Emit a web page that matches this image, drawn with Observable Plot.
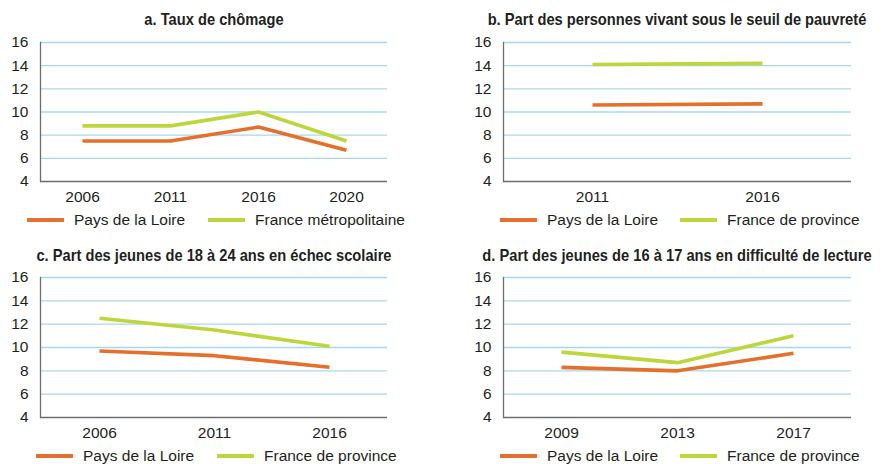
<!DOCTYPE html>
<html>
<head>
<meta charset="utf-8">
<script src="https://cdn.jsdelivr.net/npm/d3@7"></script>
<script src="https://cdn.jsdelivr.net/npm/@observablehq/plot@0.6"></script>
<style>
  html, body { margin: 0; padding: 0; background: #fff; }
  #root { position: relative; width: 887px; height: 464px; overflow: hidden; background: #fff; }
  .title { position: absolute; font-family: "Liberation Sans", Arial, sans-serif; font-weight: bold; font-size: 16.5px; color: #231f20; white-space: nowrap; transform: translateX(-50%) scaleX(0.89); transform-origin: 50% 50%; line-height: 20px; }
  .plot { position: absolute; }
  .leg { position: absolute; display: flex; align-items: center; font-family: "Liberation Sans", Arial, sans-serif; font-size: 15.5px; color: #231f20; white-space: nowrap; line-height: 18px; }
  .sw { display: inline-block; width: 37px; height: 4px; margin-right: 10px; }
</style>
</head>
<body>
<div id="root"></div>
<script>
// ---- data ----
const yTicks = [4, 6, 8, 10, 12, 14, 16];
const gridTicks = [6, 8, 10, 12, 14, 16];
const seriesLoire = "Pays de la Loire";
const seriesMetro = "France métropolitaine";
const seriesProvince = "France de province";

const titleA = "a. Taux de chômage";
const yearsA = ["2006", "2011", "2016", "2020"];
const loireA = [7.5, 7.5, 8.7, 6.7];
const metroA = [8.8, 8.8, 10.0, 7.5];

const titleB = "b. Part des personnes vivant sous le seuil de pauvreté";
const yearsB = ["2011", "2016"];
const loireB = [10.6, 10.7];
const provinceB = [14.1, 14.2];

const titleC = "c. Part des jeunes de 18 à 24 ans en échec scolaire";
const yearsC = ["2006", "2011", "2016"];
const loireC = [9.7, 9.3, 8.3];
const provinceC = [12.5, 11.5, 10.1];

const titleD = "d. Part des jeunes de 16 à 17 ans en difficulté de lecture";
const yearsD = ["2009", "2013", "2017"];
const loireD = [8.3, 8.0, 9.5];
const provinceD = [9.6, 8.7, 11.0];

const colorLoire = "#e4702c";
const colorFrance = "#bdd63a";
const gridColor = "#a9d7f1";
const axisColor = "#6d6e70";

// ---- layout ----
const root = document.getElementById("root");

function panel(opts) {
  const {title, years, s1, v1, s2, v2, fl, fr, ft, fb, padding, titleY, legY, leg} = opts;
  const mL = 40, mT = 12, mR = 4, mB = 30;
  const data = [
    ...years.map((y, i) => ({year: y, value: v1[i], series: s1})),
    ...years.map((y, i) => ({year: y, value: v2[i], series: s2}))
  ];
  const t = document.createElement("div");
  t.className = "title";
  t.textContent = title;
  t.style.left = ((fl + fr) / 2) + "px";
  t.style.top = (titleY - 10) + "px";
  root.appendChild(t);

  const chart = Plot.plot({
    width: (fr - fl) + mL + mR,
    height: (fb - ft) + mT + mB,
    marginLeft: mL, marginRight: mR, marginTop: mT, marginBottom: mB,
    style: {fontFamily: "'Liberation Sans', Arial, sans-serif", fontSize: "15.5px", color: "#231f20", background: "transparent", overflow: "visible"},
    x: {type: "point", domain: years, padding: padding},
    y: {domain: [4, 16]},
    color: {domain: [s1, s2], range: [colorLoire, colorFrance]},
    marks: [
      Plot.ruleY(gridTicks, {stroke: gridColor, strokeWidth: 1.3}),
      Plot.ruleY([4], {stroke: axisColor, strokeWidth: 1.3}),
      Plot.frame({anchor: "left", stroke: axisColor, strokeWidth: 1.3}),
      Plot.axisY(yTicks, {tickSize: 0, tickPadding: 12, label: null, fill: "#231f20"}),
      Plot.axisX({tickSize: 0, tickPadding: 9, label: null, fill: "#231f20"}),
      Plot.lineY(data, {x: "year", y: "value", stroke: "series", z: "series", strokeWidth: 3.6, strokeLinecap: "butt", strokeLinejoin: "round"})
    ]
  });
  chart.classList.add("plot");
  chart.style.left = (fl - mL) + "px";
  chart.style.top = (ft - mT) + "px";
  root.appendChild(chart);

  [[s1, colorLoire, leg[0]], [s2, colorFrance, leg[1]]].forEach(([name, col, x]) => {
    const d = document.createElement("div");
    d.className = "leg";
    d.style.left = x + "px";
    d.style.top = (legY - 9) + "px";
    const sw = document.createElement("span");
    sw.className = "sw";
    sw.style.background = col;
    const tx = document.createElement("span");
    tx.textContent = name;
    d.appendChild(sw);
    d.appendChild(tx);
    root.appendChild(d);
  });
}

panel({title: titleA, years: yearsA, s1: seriesLoire, v1: loireA, s2: seriesMetro, v2: metroA,
  fl: 40, fr: 387, ft: 42, fb: 181, padding: 0.47, titleY: 19, legY: 220, leg: [27, 208]});
panel({title: titleB, years: yearsB, s1: seriesLoire, v1: loireB, s2: seriesProvince, v2: provinceB,
  fl: 503, fr: 851, ft: 42, fb: 181, padding: 0.52, titleY: 19, legY: 220, leg: [500, 680]});
panel({title: titleC, years: yearsC, s1: seriesLoire, v1: loireC, s2: seriesProvince, v2: provinceC,
  fl: 40, fr: 387, ft: 277, fb: 417, padding: 0.5, titleY: 255, legY: 456, leg: [36, 217]});
panel({title: titleD, years: yearsD, s1: seriesLoire, v1: loireD, s2: seriesProvince, v2: provinceD,
  fl: 503, fr: 851, ft: 277, fb: 417, padding: 0.5, titleY: 255, legY: 456, leg: [500, 680]});
</script>
</body>
</html>
